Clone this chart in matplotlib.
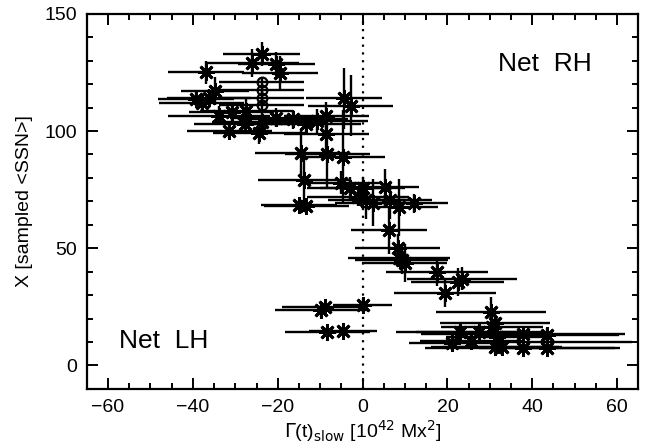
import matplotlib
matplotlib.use("Agg")
import matplotlib.pyplot as plt
from matplotlib.ticker import MultipleLocator

plt.rcParams['font.family'] = ['Liberation Sans', 'DejaVu Sans']

# Asterisk points: x (Gamma slow), y (sampled SSN), x error, y error
x_star = [-23.8, -26.0, -20.3, -19.5, -36.9, -34.8, -39.3, -36.2, -37.9, -33.8,
          -30.8, -27.4, -23.6, -20.3, -16.4, -10.8, -8.5, -8.5, -31.4, -24.3,
          -4.3, -2.8, -13.4, -27.7,
          -14.4, -8.3, -4.7, -13.7, -5.0, -3.0, 0.0, 0.9, 2.4, 5.2,
          6.4, 8.7, 12.1, -15.0, -13.3, -1.1,
          6.2, 8.3, 9.2, 9.9, 8.6, 17.5, 22.4, 23.4, 19.4,
          -9.7, -8.9, 0.0, -8.3, -4.7,
          30.2, 30.5, 22.9, 27.5, 31.2, 31.6, 21.0, 25.5, 31.2, 32.9,
          43.5, 43.5, 37.8, 37.8]
y_star = [132.8, 129.0, 128.5, 124.8, 125.0, 117.0, 113.7, 114.0, 112.0, 106.5,
          108.0, 108.6, 104.0, 105.7, 105.0, 104.3, 106.5, 98.8, 100.0, 99.3,
          114.0, 110.7, 103.0, 103.0,
          90.8, 90.2, 88.8, 78.9, 78.0, 75.5, 75.5, 70.4, 69.5, 76.0,
          70.4, 67.4, 69.1, 68.5, 68.2, 72.0,
          57.6, 50.0, 45.0, 43.6, 46.0, 39.8, 35.5, 37.0, 30.8,
          23.7, 25.0, 25.8, 14.4, 14.8,
          23.0, 16.4, 14.4, 14.4, 18.0, 12.2, 9.6, 10.5, 8.0, 8.0,
          13.0, 7.5, 13.5, 7.5]
xerr_star = [9, 11, 9, 9, 9, 8, 9, 10, 10, 12,
             10, 11, 12, 11, 13, 12, 10, 10, 10, 11,
             9, 10, 13, 12,
             11, 10, 10, 11, 9, 10, 10, 9, 9, 8,
             10, 9, 8, 9, 10, 12,
             9, 10, 11, 10, 12, 12, 11, 13, 12,
             11, 10, 7, 10, 8,
             13, 12, 15, 15, 13, 12, 10, 12, 15, 14,
             17, 16, 24, 23]
yerr_star = [5, 6, 5, 7, 5, 6, 3, 4, 3, 4,
             4, 5, 4, 4, 4, 5, 6, 7, 3, 5,
             13, 13, 4, 4,
             10, 15, 20, 10, 5, 5, 5, 8, 10, 8,
             8, 12, 4, 2, 2, 4,
             10, 6, 6, 8, 4, 6, 6, 5, 6,
             3, 2, 3, 2, 2,
             6, 5, 3, 3, 4, 4, 3, 3, 3, 3,
             3, 2, 2, 2]

# Circle points
x_circ = [-23.8, -23.8, -23.8, -23.8, 43.5]
y_circ = [121.0, 117.5, 114.0, 111.0, 10.0]
xerr_circ = [10, 10, 10, 10, 20]
yerr_circ = [2, 2, 3, 3, 3]

fig = plt.figure(figsize=(6.48, 4.44), dpi=100)
ax = fig.add_axes([0.134, 0.124, 0.851, 0.845])

ax.errorbar(x_star, y_star, xerr=xerr_star, yerr=yerr_star, fmt='none',
            ecolor='black', elinewidth=1.7, capsize=0, zorder=2)
ax.errorbar(x_circ, y_circ, xerr=xerr_circ, yerr=yerr_circ, fmt='none',
            ecolor='black', elinewidth=1.7, capsize=0, zorder=2)
ax.plot(x_star, y_star, linestyle='none', marker=(8, 2, 0), markersize=12,
        markeredgewidth=2.0, color='black', zorder=3)
ax.plot(x_circ, y_circ, linestyle='none', marker='o', markersize=7,
        markerfacecolor='none', markeredgewidth=1.6, color='black', zorder=3)

ax.axvline(0, color='black', linestyle=(0, (1, 2.5)), linewidth=1.6, zorder=1)

ax.set_xlim(-65, 65)
ax.set_ylim(-10, 150)
ax.xaxis.set_major_locator(MultipleLocator(20))
ax.xaxis.set_minor_locator(MultipleLocator(5))
ax.yaxis.set_major_locator(MultipleLocator(50))
ax.yaxis.set_minor_locator(MultipleLocator(10))
ax.tick_params(which='both', direction='in', top=True, right=True, width=1.4,
               labelsize=14, color='black')
ax.tick_params(which='major', length=8, pad=7)
ax.tick_params(which='minor', length=4.5)
for s in ax.spines.values():
    s.set_linewidth(1.6)

ax.set_xlabel(r'$\Gamma$(t)$_{\mathrm{slow}}$ [10$^{42}$ Mx$^{2}$]', fontsize=14,
              labelpad=2)
ax.set_ylabel('X [sampled <SSN>]', fontsize=14, labelpad=8)

ax.text(31.9, 128.6, 'Net  RH', fontsize=19, ha='left', va='center')
ax.text(-57.5, 10.5, 'Net  LH', fontsize=19, ha='left', va='center')

fig.savefig('out.png', dpi=100)
